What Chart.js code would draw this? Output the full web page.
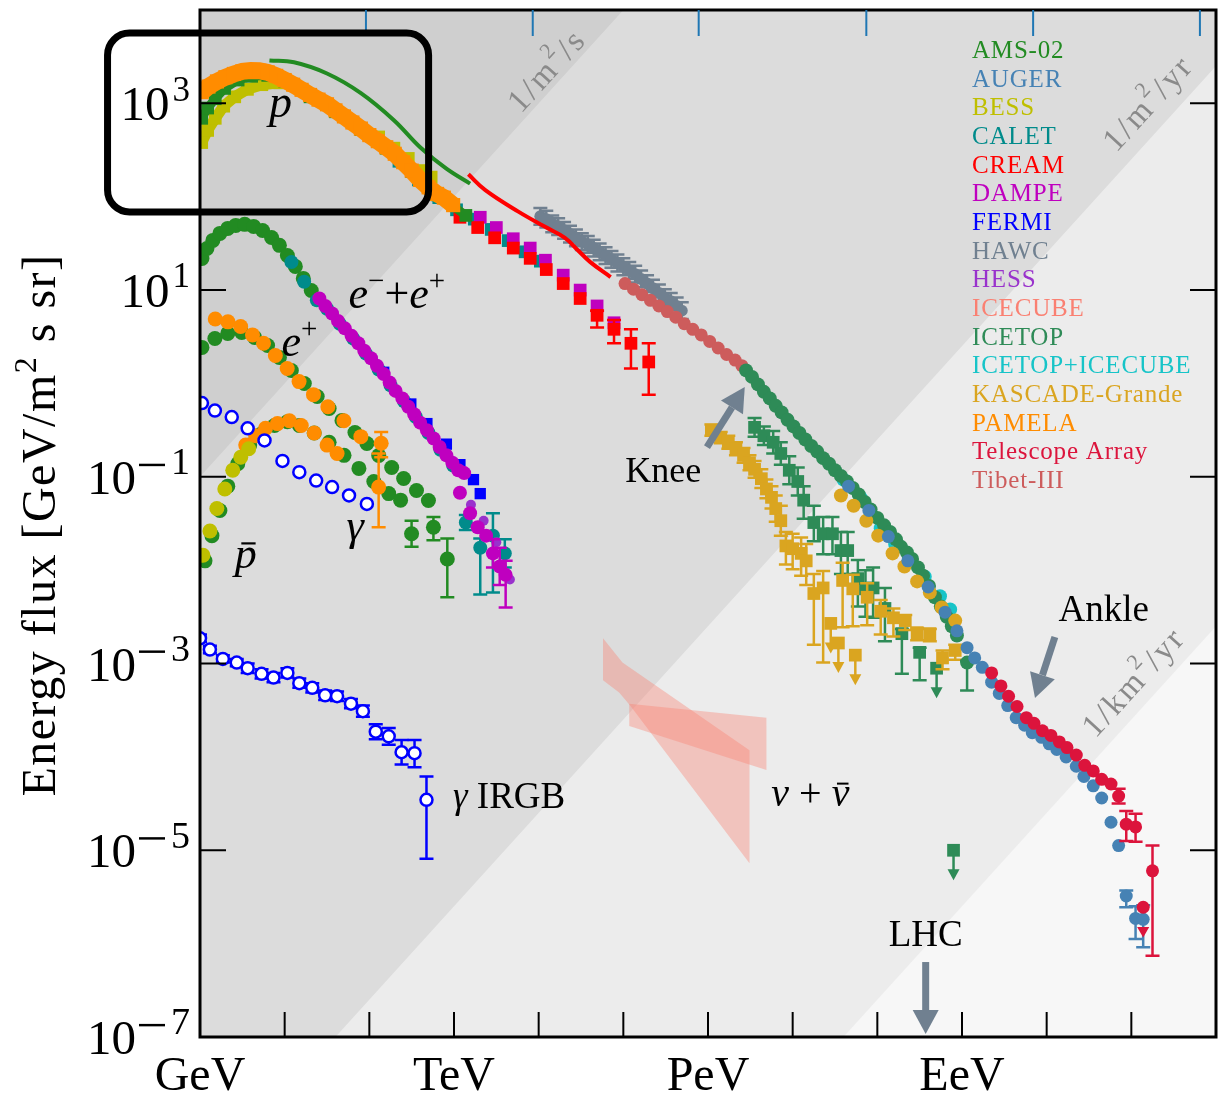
<!DOCTYPE html>
<html><head><meta charset="utf-8">
<script src="https://cdn.jsdelivr.net/npm/chart.js@4.4.0/dist/chart.umd.min.js"></script>
<style>html,body{margin:0;padding:0;background:#fff;}</style>
</head><body>
<canvas id="c" width="1226" height="1102"></canvas>
<script>
// ---------------- DATA (log10 of energy in GeV, log10 of energy flux in GeV/m^2 s sr) ----------------
// Protons
const pamelaP_logE = [0.02,0.1,0.2,0.3,0.4,0.5,0.6,0.7,0.8,0.9,1.0,1.1,1.2,1.3,1.4,1.5,1.6,1.7,1.8,1.9,2.0,2.1,2.2,2.3,2.4,2.5,2.6,2.7,2.8,2.88,2.99];
const pamelaP_logF = [3.12,3.18,3.235,3.28,3.315,3.343,3.352,3.35,3.332,3.295,3.25,3.20,3.145,3.09,3.04,2.99,2.925,2.86,2.795,2.73,2.66,2.595,2.53,2.46,2.37,2.28,2.18,2.10,2.03,1.99,1.91];
const bessPLow_logE = [0.02,0.09,0.18,0.28,0.41,0.56,0.73,0.94];
const bessPLow_logF = [2.58,2.71,2.84,2.97,3.07,3.15,3.20,3.22];
const bessPHigh_logE = [2.11,2.29,2.46,2.64,2.73];
const bessPHigh_logF = [2.64,2.52,2.41,2.28,2.21];
const amsP_logE = [0.02,0.09,0.18,0.29,0.45,0.61,0.8,1.0,1.3,1.6,1.9,2.2,2.5,2.8,3.14];
const amsP_logF = [2.84,2.95,3.05,3.16,3.25,3.29,3.30,3.24,3.07,2.91,2.72,2.52,2.27,2.02,1.80];
const amsPLine_logE = [0.82,1.11,1.50,1.90,2.29,2.60,2.91,3.19];
const amsPLine_logF = [3.46,3.44,3.32,3.11,2.82,2.53,2.30,2.14];
const caletP_logE = [2.35,2.58,2.82,3.03,3.24,3.44,3.64,3.84,4.02];
const caletP_logF = [2.38,2.18,1.99,1.86,1.76,1.65,1.53,1.41,1.31];
const dampeP_logE = [3.31,3.50,3.70,3.90,4.08,4.29,4.49,4.69,4.89];
const dampeP_logF = [1.78,1.67,1.55,1.45,1.32,1.16,1.00,0.83,0.65];
const creamP_logE = [3.07,3.28,3.48,3.70,3.90,4.09,4.29,4.49,4.69,4.89,5.09,5.30];
const creamP_logF = [1.78,1.67,1.56,1.45,1.34,1.22,1.07,0.91,0.73,0.58,0.43,0.23];
const creamP_errLo = [null,null,null,null,null,null,null,null,0.13,0.15,0.27,0.35];
const creamP_errHi = [null,null,null,null,null,null,null,null,0.05,0.10,0.15,0.20];
const creamLine_logE = [3.17,3.37,3.76,4.07,4.31,4.46,4.61,4.85];
const creamLine_logF = [2.24,2.07,1.84,1.68,1.56,1.43,1.30,1.14];
const hawc_logE = [4.02,4.09,4.16,4.23,4.30,4.37,4.44,4.51,4.58,4.65,4.72,4.79,4.86,4.93,5.00,5.07,5.14,5.21,5.28,5.35,5.42,5.49,5.56,5.63,5.69];
const hawc_logF = [1.79,1.76,1.71,1.68,1.64,1.60,1.56,1.52,1.49,1.45,1.41,1.37,1.33,1.29,1.25,1.21,1.17,1.12,1.07,1.02,0.97,0.92,0.88,0.83,0.78];
const tibet_logE = [5.02,5.12,5.22,5.32,5.42,5.52,5.62,5.72,5.82,5.92,6.02,6.12,6.22,6.32,6.40];
const tibet_logF = [1.07,1.01,0.95,0.89,0.83,0.77,0.71,0.64,0.58,0.52,0.45,0.38,0.31,0.25,0.19];
// All-particle, knee to ankle
const icetop_logE = [6.45,6.52,6.59,6.66,6.73,6.80,6.87,6.94,7.01,7.08,7.15,7.22,7.29,7.36,7.43,7.50,7.57,7.64,7.71,7.78,7.85,7.92,8.00,8.08,8.15,8.22,8.28,8.35,8.41,8.48,8.54,8.61,8.68,8.75,8.82,8.88,8.94,9.06];
const icetop_logF = [0.14,0.07,-0.01,-0.09,-0.16,-0.24,-0.31,-0.39,-0.46,-0.53,-0.60,-0.67,-0.73,-0.80,-0.86,-0.93,-0.99,-1.05,-1.12,-1.19,-1.27,-1.35,-1.44,-1.52,-1.59,-1.67,-1.75,-1.81,-1.88,-1.97,-2.06,-2.17,-2.29,-2.39,-2.50,-2.60,-2.70,-2.99];
const icetop_errLo = [null,null,null,null,null,null,null,null,null,null,null,null,null,null,null,null,null,null,null,null,null,null,null,null,null,null,null,null,null,null,null,null,null,null,null,null,null,0.30];
const icetop_errHi = [null,null,null,null,null,null,null,null,null,null,null,null,null,null,null,null,null,null,null,null,null,null,null,null,null,null,null,null,null,null,null,null,null,null,null,null,null,0.02];
const icetopSq_logE = [6.55,6.66,6.77,6.86,6.96,7.06,7.13,7.25,7.36,7.47,7.57,7.65,7.77,7.86,7.95,8.09,8.29,8.50];
const icetopSq_logF = [-0.47,-0.56,-0.63,-0.75,-0.93,-1.05,-1.25,-1.49,-1.61,-1.61,-1.79,-1.79,-2.09,-2.20,-2.19,-2.41,-2.68,-2.88];
const icetopSq_errLo = [0.1,0.1,0.12,0.12,0.15,0.15,0.2,0.2,0.22,0.22,0.25,0.25,0.3,0.3,0.32,0.35,0.43,0.3];
const icetopSq_errHi = [0.1,0.1,0.12,0.12,0.15,0.15,0.15,0.18,0.18,0.18,0.2,0.2,0.2,0.2,0.22,0.22,0.05,0.05];
const icetopUL_logE = [8.70,8.90];
const icetopUL_logF = [-3.05,-5.00];
const icIc_logE = [7.60,7.80,8.04,8.21,8.39,8.56,8.74,8.86];
const icIc_logF = [-1.03,-1.22,-1.55,-1.72,-1.89,-2.07,-2.28,-2.42];
const kascadeC_logE = [7.57,7.72,7.87,8.01,8.18,8.32,8.47,8.62,8.76,8.92];
const kascadeC_logF = [-1.20,-1.31,-1.47,-1.63,-1.82,-1.96,-2.12,-2.24,-2.40,-2.54];
const kascadeSq_logE = [6.04,6.15,6.24,6.33,6.42,6.49,6.55,6.63,6.69,6.75,6.80,6.86,6.92,7.00,7.10,7.16,7.25,7.36,7.59,7.71,7.88,8.04,8.19,8.33,8.47,8.62,8.77,8.92];
const kascadeSq_logF = [-0.50,-0.58,-0.63,-0.70,-0.77,-0.85,-0.92,-1.02,-1.13,-1.22,-1.34,-1.47,-1.74,-1.77,-1.82,-1.90,-2.25,-2.19,-2.11,-2.20,-2.29,-2.44,-2.51,-2.54,-2.67,-2.68,-2.94,-2.86];
const kascadeSq_errLo = [0.06,0.06,0.07,0.07,0.08,0.08,0.09,0.1,0.1,0.12,0.14,0.16,0.2,0.22,0.24,0.26,0.55,0.8,0.5,0.4,0.3,0.25,0.2,0.1,0.08,0.08,0.12,0.1];
const kascadeSq_errHi = [0.06,0.06,0.07,0.07,0.08,0.08,0.09,0.1,0.1,0.12,0.14,0.16,0.15,0.16,0.17,0.18,0.21,0.18,0.19,0.15,0.15,0.12,0.1,0.06,0.05,0.05,0.08,0.06];
const kascadeUL_logE = [7.45,7.54,7.74];
const kascadeUL_logF = [-2.57,-2.78,-2.91];
const auger_logE = [7.66,7.90,8.13,8.36,8.60,8.80,8.94,9.06,9.15,9.24,9.35,9.44,9.54,9.64,9.74,9.83,9.94,10.03,10.12,10.23,10.35,10.44,10.55,10.65,10.76,10.85,10.94,11.05,11.14];
const auger_logF = [-1.10,-1.36,-1.64,-1.90,-2.18,-2.45,-2.65,-2.83,-2.94,-3.04,-3.20,-3.32,-3.45,-3.58,-3.66,-3.74,-3.79,-3.86,-3.92,-4.00,-4.10,-4.21,-4.31,-4.44,-4.70,-4.95,-5.49,-5.73,-5.74];
const auger_errLo = [null,null,null,null,null,null,null,null,null,null,null,null,null,null,null,null,null,null,null,null,null,null,null,null,null,null,0.12,0.22,0.30];
const auger_errHi = [null,null,null,null,null,null,null,null,null,null,null,null,null,null,null,null,null,null,null,null,null,null,null,null,null,null,0.06,0.13,0.15];
const ta_logE = [9.35,9.46,9.55,9.65,9.76,9.85,9.95,10.05,10.15,10.24,10.35,10.45,10.55,10.65,10.76,10.85,10.94,11.05,11.14,11.25];
const ta_logF = [-3.10,-3.24,-3.35,-3.46,-3.58,-3.64,-3.72,-3.77,-3.84,-3.90,-3.98,-4.09,-4.15,-4.24,-4.29,-4.42,-4.72,-4.75,-5.61,-5.22];
const ta_errLo = [null,null,null,null,null,null,null,null,null,null,null,null,null,null,null,0.08,0.18,0.16,null,0.91];
const ta_errHi = [null,null,null,null,null,null,null,null,null,null,null,null,null,null,null,0.08,0.14,0.14,null,0.27];
const taUL_logE = [11.14];
const taUL_logF = [-5.86];
// Electrons + positrons
const amsE_logE = [0.023,0.082,0.152,0.235,0.328,0.422,0.528,0.633,0.739,0.845,0.938,1.032,1.126,1.220,1.314];
const amsE_logF = [1.339,1.446,1.532,1.607,1.661,1.693,1.704,1.682,1.639,1.564,1.479,1.371,1.254,1.125,0.996];
const caletE_logE = [1.08,1.23,1.38,1.50,1.65,1.81,1.96,2.11,2.25,2.41,2.55,2.70,2.84,2.99,3.14,3.31,3.46,3.60];
const caletE_logF = [1.30,1.09,0.89,0.80,0.64,0.48,0.32,0.15,-0.02,-0.19,-0.36,-0.53,-0.71,-0.88,-1.49,-1.76,-1.63,-1.82];
const caletE_errLo = [null,null,null,null,null,null,null,null,null,null,null,null,null,null,0.08,0.5,0.61,0.15];
const caletE_errHi = [null,null,null,null,null,null,null,null,null,null,null,null,null,null,0.08,0.1,0.24,0.15];
const dampeE_logE = [1.41,1.48,1.56,1.63,1.71,1.79,1.87,1.94,2.02,2.09,2.17,2.24,2.31,2.39,2.46,2.53,2.60,2.68,2.76,2.83,2.91,2.98,3.05,3.12,3.07,3.19,3.28,3.38,3.46,3.54,3.61];
const dampeE_logF = [0.91,0.83,0.75,0.67,0.59,0.51,0.43,0.35,0.27,0.19,0.10,0.01,-0.08,-0.16,-0.25,-0.33,-0.42,-0.50,-0.59,-0.68,-0.77,-0.85,-0.93,-0.96,-1.17,-1.39,-1.54,-1.63,-1.82,-1.96,-2.05];
const dampeE_errLo = [null,null,null,null,null,null,null,null,null,null,null,null,null,null,null,null,null,null,null,null,null,null,null,null,null,null,null,null,0.15,0.2,0.35];
const dampeE_errHi = [null,null,null,null,null,null,null,null,null,null,null,null,null,null,null,null,null,null,null,null,null,null,null,null,null,null,null,null,0.15,0.2,0.15];
const fermiE_logE = [2.17,2.49,2.68,2.91,3.07,3.23,3.31];
const fermiE_logF = [0.12,-0.22,-0.43,-0.65,-0.87,-1.03,-1.18];
const hessE_logE = [3.20,3.35,3.50,3.66];
const hessE_logF = [-1.30,-1.47,-1.70,-2.10];
// Positrons
const amsPos_logE = [0.023,0.176,0.328,0.493,0.645,0.798,0.938,1.079,1.232,1.384,1.525,1.677,1.830,1.971,2.111,2.264,2.405,2.557,2.698];
const amsPos_logF = [0.386,0.482,0.536,0.546,0.493,0.407,0.279,0.139,0.000,-0.139,-0.268,-0.396,-0.525,-0.643,-0.772,-0.900,-1.018,-1.147,-1.254];
const pamelaPos_logE = [0.18,0.33,0.48,0.62,0.75,0.89,1.03,1.17,1.34,1.51,1.70,1.90,2.14,2.11];
const pamelaPos_logF = [0.69,0.66,0.61,0.52,0.43,0.30,0.16,0.02,-0.12,-0.25,-0.40,-0.57,-0.64,-1.11];
const pamelaPos_errLo = [null,null,null,null,null,null,null,null,null,null,null,null,0.15,0.43];
const pamelaPos_errHi = [null,null,null,null,null,null,null,null,null,null,null,null,0.12,0.36];
// Antiprotons
const bessPbar_logE = [0.035,0.117,0.199,0.293,0.387,0.481,0.575];
const bessPbar_logF = [-1.84,-1.58,-1.34,-1.13,-0.93,-0.79,-0.70];
const amsPbar_logE = [0.059,0.141,0.235,0.328,0.446,0.587,0.727,0.880,1.032,1.173,1.349,1.525,1.701,1.877,2.053,2.229,2.369,2.499,2.757,2.921];
const amsPbar_logF = [-1.90,-1.63,-1.36,-1.10,-0.86,-0.66,-0.54,-0.45,-0.41,-0.45,-0.53,-0.63,-0.77,-0.91,-1.05,-1.18,-1.25,-1.61,-1.54,-1.88];
const amsPbar_errLo = [null,null,null,null,null,null,null,null,null,null,null,null,null,null,null,null,null,0.14,0.14,0.41];
const amsPbar_errHi = [null,null,null,null,null,null,null,null,null,null,null,null,null,null,null,null,null,0.14,0.11,0.22];
const pamelaPbar_logE = [0.540,0.657,0.774,0.915,1.056,1.196,1.349,1.501,1.619];
const pamelaPbar_logF = [-0.66,-0.56,-0.48,-0.43,-0.40,-0.45,-0.53,-0.66,-0.75];
// Gamma rays
const gamma_logE = [0.023,0.176,0.375,0.563,0.762,0.974,1.173,1.372,1.560,1.760,1.971];
const gamma_logF = [-0.21,-0.29,-0.36,-0.48,-0.61,-0.83,-0.95,-1.04,-1.11,-1.20,-1.29];
const irgb_logE = [0.000,0.117,0.270,0.434,0.563,0.727,0.868,1.032,1.173,1.326,1.478,1.619,1.783,1.924,2.076,2.229,2.381,2.534,2.675];
const irgb_logF = [-2.73,-2.85,-2.95,-2.99,-3.05,-3.11,-3.15,-3.10,-3.21,-3.26,-3.34,-3.35,-3.43,-3.51,-3.73,-3.78,-3.95,-3.96,-4.46];
const irgb_errLo = [0.04,0.04,0.04,0.04,0.05,0.05,0.05,0.05,0.05,0.05,0.05,0.05,0.05,0.06,0.08,0.09,0.13,0.15,0.63];
const irgb_errHi = [0.04,0.04,0.04,0.04,0.05,0.05,0.05,0.05,0.05,0.05,0.05,0.05,0.05,0.06,0.08,0.09,0.13,0.14,0.25];
// Neutrinos (IceCube bands, polygon outlines)
const icecube1_logE = [4.76,4.99,6.49,6.49,5.08,4.95,4.76];
const icecube1_logF = [-2.73,-2.99,-3.93,-5.14,-3.45,-3.31,-3.18];
const icecube2_logE = [5.07,6.69,6.69,5.07];
const icecube2_logF = [-3.43,-3.58,-4.14,-3.67];
// Iso-rate bands (log offset: logF = logE + c)
const bandOffsets = [-1.0, -8.6, -14.6];
const bandLabels = ['1/m²/s', '1/m²/yr', '1/km²/yr'];
// Axes
const xLabelDecades = [0,3,6,9];
const xLabelTexts = ['GeV','TeV','PeV','EeV'];
const yLabelDecades = [3,1,-1,-3,-5,-7];
const topTickDecades = [1.96,3.93,5.89,7.87,9.84,11.81];
const legendNames = ['AMS-02','AUGER','BESS','CALET','CREAM','DAMPE','FERMI','HAWC','HESS','ICECUBE','ICETOP','ICETOP+ICECUBE','KASCADE-Grande','PAMELA','Telescope Array','Tibet-III'];

// ---------------- STYLE ----------------
const C = {
  'AMS-02':'#228b22','AUGER':'#4682b4','BESS':'#bfbf00','CALET':'#008b8b','CREAM':'#ff0000','DAMPE':'#bf00bf',
  'FERMI':'#0000ff','HAWC':'#708090','HESS':'#9932cc','ICECUBE':'#fa8072','ICETOP':'#2e8b57','ICETOP+ICECUBE':'#17c4c8',
  'KASCADE-Grande':'#daa520','PAMELA':'#ff8c00','Telescope Array':'#dc143c','Tibet-III':'#cd5c5c'
};
const FONT = 'Liberation Serif';
const ARROW = '#708090';

function P(le, lf){ return le.map((e,i)=>({x:Math.pow(10,e), y:Math.pow(10,lf[i])})); }
function sc(label, le, lf, o){
  const col = C[label];
  return Object.assign({label, data:P(le,lf), backgroundColor:col, borderColor:col, pointStyle:'circle',
    pointRadius:6.5, pointHoverRadius:6.5, pointBorderWidth:0, showLine:false, borderWidth:0}, o||{});
}
const SQ = {pointStyle:'rect', pointRadius:9, pointHoverRadius:9};

const datasets = [
  sc('CREAM', creamLine_logE, creamLine_logF, {showLine:true, borderWidth:4, pointRadius:0, tension:0.4}),
  sc('AMS-02', amsPLine_logE, amsPLine_logF, {showLine:true, borderWidth:4, pointRadius:0, tension:0.4}),
  sc('Telescope Array', taUL_logE, taUL_logF, {pointStyle:'triangle', pointRotation:180, pointRadius:7}),
  sc('Telescope Array', ta_logE, ta_logF, {errLo:ta_errLo, errHi:ta_errHi}),
  sc('AUGER', auger_logE, auger_logF, {errLo:auger_errLo, errHi:auger_errHi}),
  sc('KASCADE-Grande', kascadeC_logE, kascadeC_logF, {pointRadius:7}),
  sc('ICETOP', icetop_logE, icetop_logF, {pointRadius:7, errLo:icetop_errLo, errHi:icetop_errHi}),
  sc('ICETOP+ICECUBE', icIc_logE, icIc_logF, {pointRadius:7}),
  sc('Tibet-III', tibet_logE, tibet_logF, {pointRadius:6.5}),
  sc('HAWC', hawc_logE, hawc_logF, {pointRadius:6, errLo:hawc_logE.map(()=>0.09), errHi:hawc_logE.map(()=>0.09)}),
  sc('KASCADE-Grande', kascadeUL_logE, kascadeUL_logF, Object.assign({ulArrow:true}, SQ)),
  sc('KASCADE-Grande', kascadeSq_logE, kascadeSq_logF, Object.assign({errLo:kascadeSq_errLo, errHi:kascadeSq_errHi}, SQ)),
  sc('ICETOP', icetopUL_logE, icetopUL_logF, Object.assign({ulArrow:true}, SQ)),
  sc('ICETOP', icetopSq_logE, icetopSq_logF, Object.assign({errLo:icetopSq_errLo, errHi:icetopSq_errHi}, SQ)),
  sc('PAMELA', pamelaP_logE, pamelaP_logF, {pointStyle:'rect', pointRadius:10, pointHoverRadius:10, showLine:true, borderWidth:17}),
  sc('AMS-02', amsP_logE, amsP_logF, Object.assign({showLine:true, borderWidth:9}, SQ)),
  sc('CREAM', creamP_logE, creamP_logF, Object.assign({errLo:creamP_errLo, errHi:creamP_errHi}, SQ)),
  sc('DAMPE', dampeP_logE, dampeP_logF, SQ),
  sc('BESS', bessPHigh_logE, bessPHigh_logF, SQ),
  sc('BESS', bessPLow_logE, bessPLow_logF, Object.assign({showLine:true, borderWidth:11}, SQ)),
  sc('CALET', caletP_logE, caletP_logF, SQ),
  sc('DAMPE', dampeE_logE, dampeE_logF, {pointRadius:7, errLo:dampeE_errLo, errHi:dampeE_errHi}),
  sc('HESS', hessE_logE, hessE_logF, {pointRadius:5}),
  sc('FERMI', fermiE_logE, fermiE_logF, {pointStyle:'rect', pointRadius:8}),
  sc('CALET', caletE_logE, caletE_logF, {pointRadius:7, errLo:caletE_errLo, errHi:caletE_errHi}),
  sc('AMS-02', amsE_logE, amsE_logF, {pointRadius:7.5}),
  sc('FERMI', gamma_logE, gamma_logF, {backgroundColor:'#ffffff', pointBorderWidth:2.5, pointRadius:6}),
  sc('PAMELA', pamelaPos_logE, pamelaPos_logF, {pointRadius:7.5, errLo:pamelaPos_errLo, errHi:pamelaPos_errHi}),
  sc('AMS-02', amsPos_logE, amsPos_logF, {pointRadius:7.5}),
  sc('BESS', bessPbar_logE, bessPbar_logF, {pointRadius:7.5}),
  sc('PAMELA', pamelaPbar_logE, pamelaPbar_logF, {pointRadius:7.5}),
  sc('AMS-02', amsPbar_logE, amsPbar_logF, {pointRadius:7.5, errLo:amsPbar_errLo, errHi:amsPbar_errHi}),
  sc('FERMI', irgb_logE, irgb_logF, {backgroundColor:'#ffffff', pointBorderWidth:2.5, pointRadius:6, errLo:irgb_errLo, errHi:irgb_errHi}),
];
datasets.forEach((d,i)=>{ d.order = i; });

// ---------------- helpers ----------------
function setLS(ctx, v){ if ('letterSpacing' in ctx) ctx.letterSpacing = v; }
function psize(p, size){ return p.sup ? Math.round(size*(p.ss||0.66)) : size; }
function fnt(p, size){ return (p.it?'italic ':'') + psize(p,size) + 'px "' + FONT + '"'; }
function drawRuns(ctx, parts, x, y, size, align){
  ctx.textAlign = 'left';
  const w = parts.map(p => { if (p.dash) return p.dash + (p.pad||0); ctx.font = fnt(p,size); return ctx.measureText(p.t).width + (p.pad||0); });
  const tot = w.reduce((a,b)=>a+b,0);
  let cx = align==='right' ? x - tot : (align==='center' ? x - tot/2 : x);
  parts.forEach((p,i)=>{
    const raise = p.sup ? size*0.40 : 0;
    if (p.dash){
      const s = psize(p,size);
      ctx.fillRect(cx, y - raise - s*0.30, p.dash, Math.max(2, s*0.07));
    } else {
      ctx.font = fnt(p,size);
      ctx.fillText(p.t, cx, y - raise);
    }
    if (p.bar){
      ctx.save(); ctx.lineWidth = Math.max(2, size*0.05); ctx.strokeStyle = ctx.fillStyle;
      const yb = y - size*0.56;
      ctx.beginPath(); ctx.moveTo(cx + w[i]*0.3, yb); ctx.lineTo(cx + w[i]*0.95, yb); ctx.stroke(); ctx.restore();
    }
    cx += w[i];
  });
  return tot;
}
function supParts(s){
  const out = [];
  for (const ch of s){
    if (ch === '²') out.push({t:'2', sup:true});
    else { if (out.length && !out[out.length-1].sup) out[out.length-1].t += ch; else out.push({t:ch}); }
  }
  return out;
}
function arrow(ctx, x1,y1,x2,y2){
  const ang = Math.atan2(y2-y1, x2-x1), hl = 24, hw = 13;
  const bx = x2 - hl*Math.cos(ang), by = y2 - hl*Math.sin(ang);
  ctx.save(); ctx.strokeStyle = ARROW; ctx.fillStyle = ARROW; ctx.lineWidth = 7; ctx.lineCap='butt';
  ctx.beginPath(); ctx.moveTo(x1,y1); ctx.lineTo(bx,by); ctx.stroke();
  ctx.beginPath(); ctx.moveTo(x2,y2);
  ctx.lineTo(bx + hw*Math.sin(ang), by - hw*Math.cos(ang));
  ctx.lineTo(bx - hw*Math.sin(ang), by + hw*Math.cos(ang));
  ctx.closePath(); ctx.fill(); ctx.restore();
}

// ---------------- plugins ----------------
const bgPlugin = {
  id:'bg',
  beforeDatasetsDraw(chart){
    const {ctx, chartArea:ca, scales:{x,y}} = chart;
    const X = v => x.getPixelForValue(Math.pow(10,v)), Y = v => y.getPixelForValue(Math.pow(10,v));
    ctx.save();
    ctx.beginPath(); ctx.rect(ca.left, ca.top, ca.right-ca.left, ca.bottom-ca.top); ctx.clip();
    ctx.fillStyle = '#f7f7f7'; ctx.fillRect(ca.left, ca.top, ca.right-ca.left, ca.bottom-ca.top);
    const fills = ['#cfcfcf','#dcdcdc','#ececec'];
    for (let i = bandOffsets.length-1; i >= 0; i--){
      const c = bandOffsets[i], e0 = -3, e1 = 15;
      ctx.beginPath();
      ctx.moveTo(X(e0), Y(e0+c)); ctx.lineTo(X(e1), Y(e1+c));
      ctx.lineTo(X(e1), ca.top-50); ctx.lineTo(X(e0), ca.top-50); ctx.closePath();
      ctx.fillStyle = fills[i]; ctx.fill();
    }
    const lpos = [[4.11,3.34],[11.21,2.99],[11.04,-3.21]];
    const ang = -Math.atan((93.36)/(85.17));
    ctx.fillStyle = '#8a8a8a'; ctx.textBaseline = 'middle';
    setLS(ctx,'2.5px');
    bandLabels.forEach((s,i)=>{
      ctx.save(); ctx.translate(X(lpos[i][0]), Y(lpos[i][1])); ctx.rotate(ang);
      drawRuns(ctx, supParts(s), 0, 0, 33, 'center'); ctx.restore();
    });
    setLS(ctx,'0px');
    ctx.textBaseline = 'alphabetic';
    ctx.fillStyle = 'rgba(250,128,114,0.38)';
    [[icecube1_logE,icecube1_logF],[icecube2_logE,icecube2_logF]].forEach(([le,lf])=>{
      ctx.beginPath();
      le.forEach((e,i)=>{ const px=X(e), py=Y(lf[i]); if(i===0) ctx.moveTo(px,py); else ctx.lineTo(px,py); });
      ctx.closePath(); ctx.fill();
    });
    ctx.restore();
  }
};

const errPlugin = {
  id:'err',
  beforeDatasetDraw(chart, args){
    const ds = chart.data.datasets[args.index];
    if (!ds.errLo && !ds.ulArrow) return;
    const {ctx, chartArea:ca, scales:{x,y}} = chart;
    ctx.save();
    ctx.beginPath(); ctx.rect(ca.left, ca.top, ca.right-ca.left, ca.bottom-ca.top); ctx.clip();
    ctx.strokeStyle = ds.borderColor; ctx.fillStyle = ds.borderColor; ctx.lineWidth = 2.5;
    ds.data.forEach((p,i)=>{
      const px = x.getPixelForValue(p.x), py = y.getPixelForValue(p.y);
      if (ds.errLo && ds.errLo[i] != null){
        const y1 = y.getPixelForValue(p.y/Math.pow(10,ds.errLo[i])), y2 = y.getPixelForValue(p.y*Math.pow(10,ds.errHi[i]));
        ctx.beginPath(); ctx.moveTo(px,y1); ctx.lineTo(px,y2);
        ctx.moveTo(px-7,y1); ctx.lineTo(px+7,y1); ctx.moveTo(px-7,y2); ctx.lineTo(px+7,y2); ctx.stroke();
      }
      if (ds.ulArrow){
        ctx.beginPath(); ctx.moveTo(px,py); ctx.lineTo(px,py+22); ctx.stroke();
        ctx.beginPath(); ctx.moveTo(px-6,py+19); ctx.lineTo(px+6,py+19); ctx.lineTo(px,py+30); ctx.closePath(); ctx.fill();
      }
    });
    ctx.restore();
  }
};

const overlayPlugin = {
  id:'overlay',
  afterDraw(chart){
    const {ctx, chartArea:ca, scales:{x,y}} = chart;
    const X = v => x.getPixelForValue(Math.pow(10,v)), Y = v => y.getPixelForValue(Math.pow(10,v));
    ctx.save();
    ctx.strokeStyle = '#000'; ctx.lineWidth = 3;
    ctx.strokeRect(ca.left, ca.top, ca.right-ca.left, ca.bottom-ca.top);
    ctx.lineWidth = 2;
    for (let d = 1; d <= 11; d++){ const px = X(d); ctx.beginPath(); ctx.moveTo(px, ca.bottom); ctx.lineTo(px, ca.bottom-25); ctx.stroke(); }
    [3,1,-1,-3,-5].forEach(d=>{ const py = Y(d);
      ctx.beginPath(); ctx.moveTo(ca.left, py); ctx.lineTo(ca.left+26, py); ctx.moveTo(ca.right, py); ctx.lineTo(ca.right-26, py); ctx.stroke(); });
    ctx.strokeStyle = '#1f77b4';
    topTickDecades.forEach(d=>{ const px = X(d); ctx.beginPath(); ctx.moveTo(px, ca.top); ctx.lineTo(px, ca.top+26); ctx.stroke(); });
    // tick labels
    ctx.fillStyle = '#000'; ctx.textBaseline = 'alphabetic';
    xLabelDecades.forEach((d,i)=>{ drawRuns(ctx, [{t:xLabelTexts[i]}], X(d), ca.bottom+53, 48, 'center'); });
    yLabelDecades.forEach(d=>{
      const parts = [{t:'10', pad:3}];
      if (d < 0){ parts.push({dash:26, sup:true, ss:0.72, pad:6}); parts.push({t:String(-d), sup:true, ss:0.78}); }
      else parts.push({t:String(d), sup:true, ss:0.72});
      drawRuns(ctx, parts, ca.left-10, Y(d)+17, 49, 'right');
    });
    // y title
    ctx.save(); ctx.translate(55, 525); ctx.rotate(-Math.PI/2);
    setLS(ctx,'1.5px');
    drawRuns(ctx, [{t:'Energy flux [GeV/m'},{t:'2',sup:true},{t:' s sr]'}], 0, 0, 48, 'center');
    setLS(ctx,'0px');
    ctx.restore();
    // legend
    setLS(ctx,'0.8px');
    legendNames.forEach((n,i)=>{
      ctx.fillStyle = C[n]; ctx.font = '25px "' + FONT + '"'; ctx.textAlign='left';
      ctx.fillText(n, ca.left + 772, ca.top + 48 + i*28.67);
    });
    setLS(ctx,'0px');
    // annotations
    ctx.fillStyle = '#000';
    const notes = [
      [0.951, 2.854, 46, [{t:'p',it:1}]],
      [2.325, 0.808, 44, [{t:'e',it:1},{t:'\u2212',sup:1},{t:'+'},{t:'e',it:1},{t:'+',sup:1}]],
      [1.174, 0.294, 44, [{t:'e',it:1},{t:'+',sup:1}]],
      [1.832, -1.677, 44, [{t:'\u03b3',it:1}]],
      [0.540, -1.977, 44, [{t:'p',it:1,bar:1}]],
      [3.651, -4.548, 37, [{t:'\u03b3',it:1},{t:' IRGB'}]],
      [5.471, -1.056, 36, [{t:'Knee'}]],
      [7.209, -4.526, 40, [{t:'\u03bd',it:1},{t:' + '},{t:'\u03bd',it:1,bar:1}]],
      [10.673, -2.545, 37, [{t:'Ankle'}]],
      [8.571, -6.026, 37, [{t:'LHC'}]],
    ];
    notes.forEach(n=>{ drawRuns(ctx, n[3], X(n[0]), Y(n[1]), n[2], 'center'); });
    arrow(ctx, X(5.988), Y(-0.681), X(6.434), Y(-0.038));
    arrow(ctx, X(10.097), Y(-2.716), X(9.862), Y(-3.369));
    arrow(ctx, X(8.571), Y(-6.197), X(8.571), Y(-6.968));
    const bx1 = X(-1.092), bx2 = X(2.700), by1 = Y(3.754), by2 = Y(1.836);
    ctx.strokeStyle = '#000'; ctx.lineWidth = 7;
    ctx.beginPath();
    if (ctx.roundRect) ctx.roundRect(bx1, by1, bx2-bx1, by2-by1, 22); else ctx.rect(bx1, by1, bx2-bx1, by2-by1);
    ctx.stroke();
    ctx.restore();
  }
};

new Chart(document.getElementById('c').getContext('2d'), {
  type:'scatter',
  data:{datasets},
  options:{
    responsive:false, animation:false, devicePixelRatio:1, events:[],
    layout:{padding:{left:200, right:4, top:10, bottom:65}},
    plugins:{legend:{display:false}, tooltip:{enabled:false}},
    scales:{
      x:{type:'logarithmic', min:1, max:1e12, display:false},
      y:{type:'logarithmic', min:1e-7, max:1e4, display:false}
    }
  },
  plugins:[bgPlugin, errPlugin, overlayPlugin]
});
</script>
</body></html>
